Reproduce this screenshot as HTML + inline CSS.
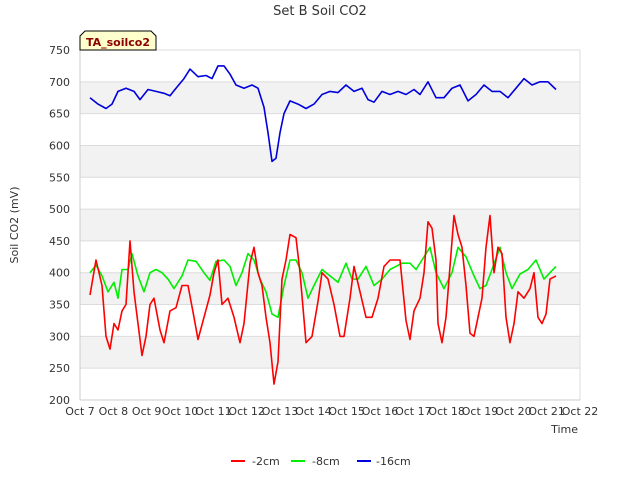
<!DOCTYPE html>
<html><head><meta charset="utf-8"><style>
body{margin:0;background:#fff;font-family:"Liberation Sans","DejaVu Sans",sans-serif}
svg text{font-family:"DejaVu Sans","Liberation Sans",sans-serif}
</style></head><body>
<svg id="chart" width="640" height="480" xmlns="http://www.w3.org/2000/svg">
<rect width="640" height="480" fill="#fff"/>
<g id="bands"></g><g id="grid"></g><g id="series"></g><g id="axes"></g>
<text x="320" y="15" text-anchor="middle" font-size="13" fill="#333">Set B Soil CO2</text>
<text transform="translate(18,225) rotate(-90)" text-anchor="middle" font-size="11" fill="#333">Soil CO2 (mV)</text>
<text x="578" y="433" text-anchor="end" font-size="11" fill="#333">Time</text>
<g>
<path d="M80,50 L80,36 L85,31 L151,31 L156,36 L156,50 Z" fill="#ffffcc" stroke="#000" stroke-width="1"/>
<text x="118" y="46" text-anchor="middle" font-size="11" font-weight="bold" fill="#8b0000">TA_soilco2</text>
</g>
<g id="legend">
<line x1="231" y1="461" x2="245" y2="461" stroke="#ff0000" stroke-width="2"/>
<text x="252" y="465" font-size="11" fill="#333">-2cm</text>
<line x1="291" y1="461" x2="305" y2="461" stroke="#00ee00" stroke-width="2"/>
<text x="312" y="465" font-size="11" fill="#333">-8cm</text>
<line x1="357" y1="461" x2="371" y2="461" stroke="#0000dd" stroke-width="2"/>
<text x="376" y="465" font-size="11" fill="#333">-16cm</text>
</g>
</svg>
<script>
const yTicks=[200,250,300,350,400,450,500,550,600,650,700,750];
const xTicks=[7,8,9,10,11,12,13,14,15,16,17,18,19,20,21,22];
const xTickLabels=["Oct 7","Oct 8","Oct 9","Oct 10","Oct 11","Oct 12","Oct 13","Oct 14","Oct 15","Oct 16","Oct 17","Oct 18","Oct 19","Oct 20","Oct 21","Oct 22"];
const blueT=[7.30,7.54,7.78,7.96,8.14,8.38,8.62,8.80,9.04,9.28,9.52,9.70,9.88,10.12,10.30,10.54,10.78,10.96,11.14,11.32,11.50,11.68,11.92,12.16,12.34,12.52,12.64,12.76,12.88,13.00,13.12,13.30,13.54,13.78,14.02,14.26,14.50,14.74,14.98,15.22,15.46,15.64,15.82,16.06,16.30,16.54,16.78,17.02,17.20,17.44,17.68,17.92,18.16,18.40,18.64,18.88,19.12,19.36,19.60,19.84,20.08,20.32,20.56,20.80,21.04,21.28];
const blueV=[675,665,658,665,685,690,685,672,688,685,682,678,690,705,720,708,710,705,725,725,712,695,690,695,690,660,620,575,580,620,650,670,665,658,665,680,685,683,695,685,690,672,668,685,680,685,680,688,680,700,675,675,690,695,670,680,695,685,685,675,690,705,695,700,700,688];
const greenT=[7.30,7.48,7.66,7.84,8.02,8.14,8.26,8.44,8.56,8.74,8.92,9.10,9.28,9.46,9.64,9.82,10.06,10.24,10.48,10.72,10.90,11.08,11.32,11.50,11.68,11.86,12.04,12.22,12.40,12.58,12.76,12.94,13.12,13.30,13.48,13.66,13.84,14.02,14.26,14.50,14.74,14.98,15.16,15.34,15.58,15.82,16.06,16.30,16.48,16.66,16.90,17.08,17.26,17.50,17.68,17.92,18.16,18.34,18.58,18.82,19.00,19.18,19.36,19.60,19.78,19.96,20.20,20.44,20.68,20.92,21.10,21.28];
const greenV=[400,412,395,370,385,360,405,405,430,395,370,400,405,400,390,375,395,420,418,400,388,418,420,410,380,400,430,420,390,370,335,330,380,420,420,400,360,380,405,395,385,415,390,390,410,380,390,405,410,415,415,405,420,440,400,375,400,440,425,395,375,380,405,440,400,375,398,405,420,390,400,410];
const redT=[7.30,7.48,7.66,7.78,7.90,8.02,8.14,8.26,8.38,8.50,8.62,8.74,8.86,8.98,9.10,9.22,9.40,9.52,9.70,9.88,10.06,10.24,10.42,10.54,10.72,10.90,11.02,11.14,11.26,11.44,11.62,11.80,11.92,12.10,12.22,12.34,12.46,12.58,12.70,12.82,12.94,13.06,13.18,13.30,13.48,13.60,13.78,13.96,14.14,14.26,14.44,14.62,14.80,14.92,15.10,15.22,15.40,15.58,15.76,15.94,16.12,16.30,16.48,16.60,16.78,16.90,17.02,17.20,17.32,17.44,17.56,17.68,17.74,17.86,17.98,18.10,18.22,18.34,18.46,18.58,18.70,18.82,18.94,19.06,19.18,19.30,19.42,19.54,19.66,19.78,19.90,20.02,20.14,20.32,20.50,20.62,20.74,20.86,20.98,21.10,21.28];
const redV=[365,420,380,300,280,320,310,340,350,450,370,320,270,300,350,360,310,290,340,345,380,380,330,295,330,365,400,420,350,360,330,290,320,415,440,400,380,330,290,225,260,390,420,460,455,400,290,300,355,400,390,350,300,300,360,410,370,330,330,360,410,420,420,420,325,295,340,360,400,480,470,420,320,290,330,410,490,460,440,380,305,300,330,360,440,490,400,440,430,330,290,320,370,360,375,400,330,320,335,390,395];
const NS="http://www.w3.org/2000/svg";
const L=80,R=580,T=50,B=400;
const xs=d=>L+(d-7)/(22-7)*(R-L);
const ys=v=>B-(v-200)/(750-200)*(B-T);
function mk(tag,attrs,parent){const e=document.createElementNS(NS,tag);for(const k in attrs)e.setAttribute(k,attrs[k]);parent.appendChild(e);return e;}
const bands=document.getElementById('bands'),grid=document.getElementById('grid'),axes=document.getElementById('axes'),series=document.getElementById('series');
for(let i=0;i<yTicks.length-1;i++){
  if(i%2===1){const r=mk('rect',{x:L,y:ys(yTicks[i+1]),width:R-L,height:ys(yTicks[i])-ys(yTicks[i+1]),fill:'#f2f2f2'},bands);
  
  }
}
yTicks.forEach(v=>{
  const g=mk('line',{x1:L,x2:R,y1:ys(v),y2:ys(v),stroke:'#dcdcdc','stroke-width':1},grid);
  
  
  const t=mk('text',{x:L-10,y:ys(v)+4,'text-anchor':'end','font-size':11,fill:'#333'},axes);
  t.textContent=v;
  
  
});
mk('line',{x1:L,x2:L,y1:T,y2:B,stroke:'#ccc'},axes);
mk('line',{x1:R,x2:R,y1:T,y2:B,stroke:'#ddd'},axes);
mk('line',{x1:L,x2:R,y1:B,y2:B,stroke:'#ccc'},axes);
xTicks.forEach((d,i)=>{
  const t=mk('text',{x:xs(d),y:B+15,'text-anchor':'middle','font-size':11,fill:'#333'},axes);
  t.textContent=xTickLabels[i];
  
  
});
function line(ts,vs,color,name){
  const p=ts.map((t,i)=>(i?'L':'M')+xs(t).toFixed(1)+','+ys(vs[i]).toFixed(1)).join(' ');
  const e=mk('path',{d:p,fill:'none',stroke:color,'stroke-width':1.6,'stroke-linejoin':'round'},series);
  
  
}
line(blueT,blueV,'#0000dd','series-16cm');
line(greenT,greenV,'#00ee00','series-8cm');
line(redT,redV,'#ff0000','series-2cm');
</script>
</body></html>
